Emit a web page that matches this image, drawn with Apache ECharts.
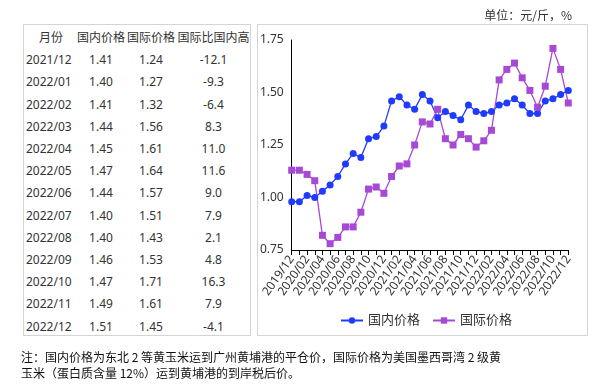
<!DOCTYPE html>
<html><head><meta charset="utf-8">
<script src="https://cdn.jsdelivr.net/npm/echarts@6/dist/echarts.min.js"></script>
<style>
html,body{margin:0;padding:0;background:#fff;}
body{width:607px;height:384px;position:relative;overflow:hidden;font-family:"Noto Sans","Noto Sans CJK SC",sans-serif;}
#tbox{position:absolute;left:23px;top:24px;width:228px;height:312px;border:1px solid #d4d4d4;box-sizing:border-box;}
#cbox{position:absolute;left:257px;top:24px;width:331px;height:312px;border:1px solid #d4d4d4;box-sizing:border-box;}
#chart{position:absolute;left:0;top:0;width:607px;height:384px;}
table{position:absolute;left:24px;top:27px;border-collapse:collapse;font-size:12px;color:#333;font-family:"Noto Sans","Noto Sans CJK SC",sans-serif;}
td{height:22.2px;padding:0;text-align:center;line-height:22px;white-space:nowrap;}
td.c0{width:50px;text-align:left;padding-left:2px;}
tr.hd td.c0{text-align:center;}
td.c1{width:50px;}
td.c2{width:50px;}
td.c3{width:75px;}
#note{position:absolute;left:21px;top:349px;font-size:12px;line-height:16px;color:#111;font-family:"Noto Sans CJK SC",serif;white-space:nowrap;}
</style></head>
<body>
<div id="tbox"></div>
<div id="cbox"></div>
<table id="tbl"></table>
<div id="chart"></div>
<div id="note">注：国内价格为东北 2 等黄玉米运到广州黄埔港的平仓价，国际价格为美国墨西哥湾 2 级黄<br>玉米（蛋白质含量 12%）运到黄埔港的到岸税后价。</div>
<script>
// Table data
const tableHeader = ["月份", "国内价格", "国际价格", "国际比国内高"];
const tableMonths = ["2021/12","2022/01","2022/02","2022/03","2022/04","2022/05","2022/06","2022/07","2022/08","2022/09","2022/10","2022/11","2022/12"];
const tableDomestic = ["1.41","1.40","1.41","1.44","1.45","1.47","1.44","1.40","1.40","1.46","1.47","1.49","1.51"];
const tableIntl = ["1.24","1.27","1.32","1.56","1.61","1.64","1.57","1.51","1.43","1.53","1.71","1.61","1.45"];
const tableDiff = ["-12.1","-9.3","-6.4","8.3","11.0","11.6","9.0","7.9","2.1","4.8","16.3","7.9","-4.1"];

// Chart data
const months = ["2019/12","2020/01","2020/02","2020/03","2020/04","2020/05","2020/06","2020/07","2020/08","2020/09","2020/10","2020/11",
  "2020/12","2021/01","2021/02","2021/03","2021/04","2021/05","2021/06","2021/07","2021/08","2021/09","2021/10","2021/11",
  "2021/12","2022/01","2022/02","2022/03","2022/04","2022/05","2022/06","2022/07","2022/08","2022/09","2022/10","2022/11","2022/12"];
const domestic = [0.98,0.98,1.01,1.00,1.03,1.06,1.10,1.16,1.21,1.19,1.28,1.29,
  1.34,1.46,1.48,1.44,1.42,1.49,1.46,1.38,1.41,1.39,1.37,1.44,
  1.41,1.40,1.41,1.44,1.45,1.47,1.44,1.40,1.40,1.46,1.47,1.49,1.51];
const international = [1.13,1.13,1.11,1.08,0.82,0.78,0.81,0.86,0.86,0.93,1.04,1.05,
  1.02,1.10,1.15,1.16,1.25,1.36,1.35,1.42,1.28,1.25,1.30,1.28,
  1.24,1.27,1.32,1.56,1.61,1.64,1.57,1.51,1.43,1.53,1.71,1.61,1.45];
const seriesNames = ["国内价格","国际价格"];
const unitText = "单位：元/斤，%";

// build table
const tbl = document.getElementById('tbl');
function addRow(cells, cls){
  const tr = document.createElement('tr');
  if(cls) tr.className = cls;
  cells.forEach((c,i)=>{const td=document.createElement('td');td.className='c'+i;td.textContent=c;tr.appendChild(td);});
  tbl.appendChild(tr);
}
addRow(tableHeader, 'hd');
tableMonths.forEach((m,i)=>addRow([m,tableDomestic[i],tableIntl[i],tableDiff[i]]));

const chart = echarts.init(document.getElementById('chart'), null, {renderer:'canvas'});
chart.setOption({
  animation:false,
  backgroundColor:'transparent',
  textStyle:{fontFamily:'"Noto Sans","Noto Sans CJK SC",sans-serif'},
  title:{text:unitText, right:30, top:4, textStyle:{fontSize:12, fontWeight:'normal', color:'#333', fontFamily:'"Noto Sans CJK SC",serif'}},
  grid:{left:291.7, right:38.7, top:40, bottom:134, containLabel:false},
  legend:{data:seriesNames, top:309, left:335, itemWidth:22, itemHeight:8, itemGap:12,
    textStyle:{fontSize:13, color:'#333'}},
  xAxis:{type:'category', data:months, boundaryGap:false,
    axisLine:{lineStyle:{color:'#000', width:1}},
    axisTick:{show:true, interval:0, length:5, lineStyle:{color:'#000'}},
    axisLabel:{interval:1, rotate:55, fontSize:12, color:'#333', margin:7}},
  yAxis:{type:'value', min:0.75, max:1.75, interval:0.25,
    axisLine:{show:true, lineStyle:{color:'#000', width:1}},
    axisTick:{show:false}, splitLine:{show:false},
    axisLabel:{fontSize:12, color:'#333', margin:8, formatter:v=>v.toFixed(2)}},
  series:[
    {name:seriesNames[0], type:'line', data:domestic, symbol:'circle', symbolSize:7, showAllSymbol:true,
      itemStyle:{color:'#1f3bff'}, lineStyle:{color:'#1f3bff', width:1.3}},
    {name:seriesNames[1], type:'line', data:international, symbol:'rect', symbolSize:7, showAllSymbol:true,
      itemStyle:{color:'#a849d6'}, lineStyle:{color:'#a849d6', width:1.3}}
  ]
});
</script>
</body></html>
